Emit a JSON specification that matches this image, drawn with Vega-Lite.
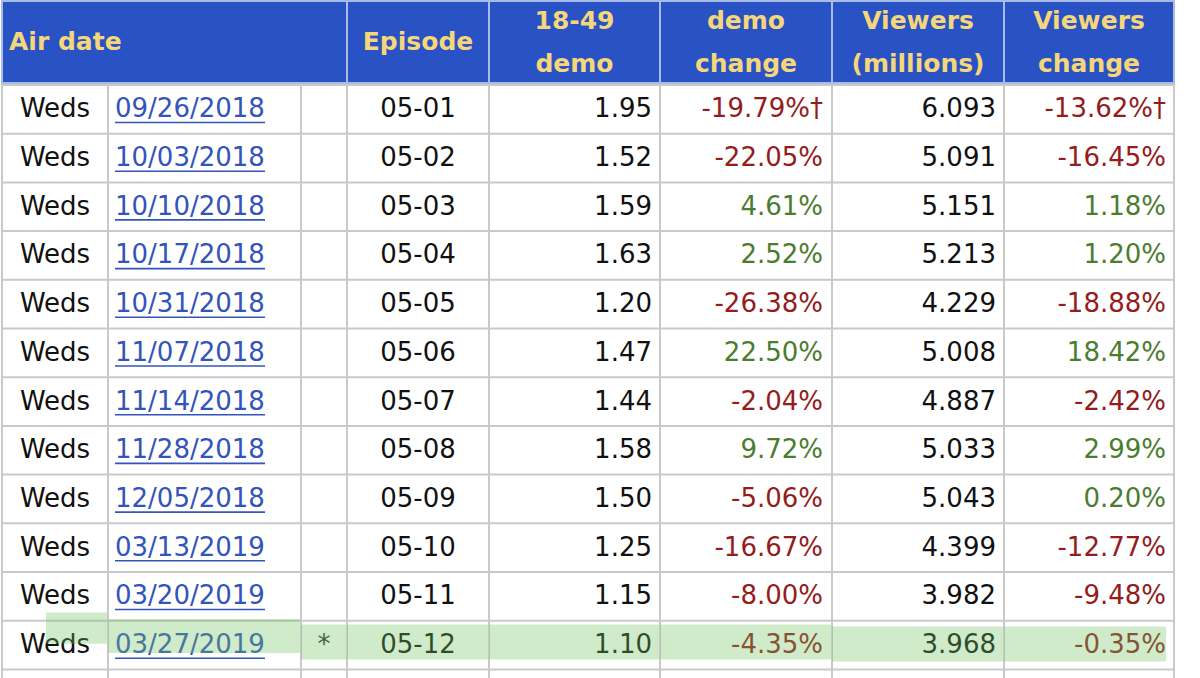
{
  "$schema": "https://vega.github.io/schema/vega-lite/v6.json",
  "padding": 0,
  "spacing": 0,
  "background": "white",
  "config": {
    "view": {"stroke": "#c9c9c9", "strokeWidth": 2},
    "concat": {"spacing": 0},
    "text": {"font": "DejaVu Sans", "fontSize": 26, "baseline": "middle"}
  },
  "datasets": {
    "rows": [
      {"idx": 1, "day": "Weds", "date": "09/26/2018", "star": "", "episode": "05-01", "demo": "1.95", "demo_change": "-19.79%†", "viewers": "6.093", "viewers_change": "-13.62%†"},
      {"idx": 2, "day": "Weds", "date": "10/03/2018", "star": "", "episode": "05-02", "demo": "1.52", "demo_change": "-22.05%", "viewers": "5.091", "viewers_change": "-16.45%"},
      {"idx": 3, "day": "Weds", "date": "10/10/2018", "star": "", "episode": "05-03", "demo": "1.59", "demo_change": "4.61%", "viewers": "5.151", "viewers_change": "1.18%"},
      {"idx": 4, "day": "Weds", "date": "10/17/2018", "star": "", "episode": "05-04", "demo": "1.63", "demo_change": "2.52%", "viewers": "5.213", "viewers_change": "1.20%"},
      {"idx": 5, "day": "Weds", "date": "10/31/2018", "star": "", "episode": "05-05", "demo": "1.20", "demo_change": "-26.38%", "viewers": "4.229", "viewers_change": "-18.88%"},
      {"idx": 6, "day": "Weds", "date": "11/07/2018", "star": "", "episode": "05-06", "demo": "1.47", "demo_change": "22.50%", "viewers": "5.008", "viewers_change": "18.42%"},
      {"idx": 7, "day": "Weds", "date": "11/14/2018", "star": "", "episode": "05-07", "demo": "1.44", "demo_change": "-2.04%", "viewers": "4.887", "viewers_change": "-2.42%"},
      {"idx": 8, "day": "Weds", "date": "11/28/2018", "star": "", "episode": "05-08", "demo": "1.58", "demo_change": "9.72%", "viewers": "5.033", "viewers_change": "2.99%"},
      {"idx": 9, "day": "Weds", "date": "12/05/2018", "star": "", "episode": "05-09", "demo": "1.50", "demo_change": "-5.06%", "viewers": "5.043", "viewers_change": "0.20%"},
      {"idx": 10, "day": "Weds", "date": "03/13/2019", "star": "", "episode": "05-10", "demo": "1.25", "demo_change": "-16.67%", "viewers": "4.399", "viewers_change": "-12.77%"},
      {"idx": 11, "day": "Weds", "date": "03/20/2019", "star": "", "episode": "05-11", "demo": "1.15", "demo_change": "-8.00%", "viewers": "3.982", "viewers_change": "-9.48%"},
      {"idx": 12, "day": "Weds", "date": "03/27/2019", "star": "*", "episode": "05-12", "demo": "1.10", "demo_change": "-4.35%", "viewers": "3.968", "viewers_change": "-0.35%"}
    ]
  },
  "vconcat": [
    {
      "spacing": 0,
      "bounds": "flush",
      "hconcat": [
        {"width": 345, "height": 82, "view": {"fill": "#2952c4", "stroke": "#a9bce8", "strokeWidth": 2},
         "data": {"values": [{"label": "Air date"}]},
         "mark": {"type": "text", "fontSize": 25, "fontWeight": "bold", "color": "#f6d67a", "align": "left", "x": 7},
         "encoding": {"text": {"field": "label"}}},
        {"width": 142, "height": 82, "view": {"fill": "#2952c4", "stroke": "#a9bce8", "strokeWidth": 2},
         "data": {"values": [{"label": "Episode"}]},
         "mark": {"type": "text", "fontSize": 25, "fontWeight": "bold", "color": "#f6d67a"},
         "encoding": {"text": {"field": "label"}}},
        {"width": 171, "height": 82, "view": {"fill": "#2952c4", "stroke": "#a9bce8", "strokeWidth": 2},
         "data": {"values": [{"label": ["18-49", "demo"]}]},
         "mark": {"type": "text", "fontSize": 25, "fontWeight": "bold", "color": "#f6d67a", "lineHeight": 43, "dy": -21.5},
         "encoding": {"text": {"field": "label"}}},
        {"width": 172, "height": 82, "view": {"fill": "#2952c4", "stroke": "#a9bce8", "strokeWidth": 2},
         "data": {"values": [{"label": ["demo", "change"]}]},
         "mark": {"type": "text", "fontSize": 25, "fontWeight": "bold", "color": "#f6d67a", "lineHeight": 43, "dy": -21.5},
         "encoding": {"text": {"field": "label"}}},
        {"width": 172, "height": 82, "view": {"fill": "#2952c4", "stroke": "#a9bce8", "strokeWidth": 2},
         "data": {"values": [{"label": ["Viewers", "(millions)"]}]},
         "mark": {"type": "text", "fontSize": 25, "fontWeight": "bold", "color": "#f6d67a", "lineHeight": 43, "dy": -21.5},
         "encoding": {"text": {"field": "label"}}},
        {"width": 170, "height": 82, "view": {"fill": "#2952c4", "stroke": "#a9bce8", "strokeWidth": 2},
         "data": {"values": [{"label": ["Viewers", "change"]}]},
         "mark": {"type": "text", "fontSize": 25, "fontWeight": "bold", "color": "#f6d67a", "lineHeight": 43, "dy": -21.5},
         "encoding": {"text": {"field": "label"}}}
      ]
    },
    {
      "spacing": 0,
      "bounds": "flush",
      "hconcat": [
        {"width": 106, "height": 595, "data": {"name": "rows"},
         "encoding": {"y": {"field": "idx", "type": "ordinal", "scale": {"range": [0, 584.4]}, "axis": null}},
         "layer": [
           {"mark": {"type": "rule", "color": "#c9c9c9", "strokeWidth": 2}, "encoding": {"y": {"field": "idx", "type": "ordinal", "bandPosition": 1}}},
           {"mark": {"type": "text", "color": "#111111"}, "encoding": {"text": {"field": "day"}}},
           {"transform": [{"filter": "datum.star === '*'"}], "mark": {"type": "bar", "color": "#6cc35f", "opacity": 0.33, "height": {"band": 0.64}, "yOffset": -17, "x": 44, "x2": 106}, "encoding": {}}
         ]},
        {"width": 193, "height": 595, "data": {"name": "rows"},
         "encoding": {"y": {"field": "idx", "type": "ordinal", "scale": {"range": [0, 584.4]}, "axis": null}},
         "layer": [
           {"mark": {"type": "rule", "color": "#c9c9c9", "strokeWidth": 2}, "encoding": {"y": {"field": "idx", "type": "ordinal", "bandPosition": 1}}},
           {"mark": {"type": "text", "color": "#3354bb", "align": "left", "x": 7}, "encoding": {"text": {"field": "date"}}},
           {"mark": {"type": "rule", "color": "#3354bb", "strokeWidth": 1.6, "x": 7, "x2": 157}, "encoding": {"y": {"field": "idx", "type": "ordinal", "bandPosition": 0.77}}},
           {"transform": [{"filter": "datum.star === '*'"}], "mark": {"type": "bar", "color": "#6cc35f", "opacity": 0.33, "height": {"band": 0.7}, "yOffset": -9}, "encoding": {}}
         ]},
        {"width": 46, "height": 595, "data": {"name": "rows"},
         "encoding": {"y": {"field": "idx", "type": "ordinal", "scale": {"range": [0, 584.4]}, "axis": null}},
         "layer": [
           {"mark": {"type": "rule", "color": "#c9c9c9", "strokeWidth": 2}, "encoding": {"y": {"field": "idx", "type": "ordinal", "bandPosition": 1}}},
           {"mark": {"type": "text", "color": "#333333"}, "encoding": {"text": {"field": "star"}}},
           {"transform": [{"filter": "datum.star === '*'"}], "mark": {"type": "bar", "color": "#6cc35f", "opacity": 0.33, "height": {"band": 0.72}, "yOffset": -3}, "encoding": {}}
         ]},
        {"width": 142, "height": 595, "data": {"name": "rows"},
         "encoding": {"y": {"field": "idx", "type": "ordinal", "scale": {"range": [0, 584.4]}, "axis": null}},
         "layer": [
           {"mark": {"type": "rule", "color": "#c9c9c9", "strokeWidth": 2}, "encoding": {"y": {"field": "idx", "type": "ordinal", "bandPosition": 1}}},
           {"mark": {"type": "text", "color": "#111111"}, "encoding": {"text": {"field": "episode"}}},
           {"transform": [{"filter": "datum.star === '*'"}], "mark": {"type": "bar", "color": "#6cc35f", "opacity": 0.33, "height": {"band": 0.72}, "yOffset": -3}, "encoding": {}}
         ]},
        {"width": 171, "height": 595, "data": {"name": "rows"},
         "encoding": {"y": {"field": "idx", "type": "ordinal", "scale": {"range": [0, 584.4]}, "axis": null}},
         "layer": [
           {"mark": {"type": "rule", "color": "#c9c9c9", "strokeWidth": 2}, "encoding": {"y": {"field": "idx", "type": "ordinal", "bandPosition": 1}}},
           {"mark": {"type": "text", "color": "#111111", "align": "right", "x": 163}, "encoding": {"text": {"field": "demo"}}},
           {"transform": [{"filter": "datum.star === '*'"}], "mark": {"type": "bar", "color": "#6cc35f", "opacity": 0.33, "height": {"band": 0.72}, "yOffset": -3}, "encoding": {}}
         ]},
        {"width": 172, "height": 595, "data": {"name": "rows"},
         "encoding": {"y": {"field": "idx", "type": "ordinal", "scale": {"range": [0, 584.4]}, "axis": null}},
         "layer": [
           {"mark": {"type": "rule", "color": "#c9c9c9", "strokeWidth": 2}, "encoding": {"y": {"field": "idx", "type": "ordinal", "bandPosition": 1}}},
           {"mark": {"type": "text", "align": "right", "x": 163},
            "encoding": {"text": {"field": "demo_change"},
                         "color": {"condition": {"test": "indexof(datum.demo_change, '-') === 0", "value": "#951c1c"}, "value": "#4b7d2e"}}},
           {"transform": [{"filter": "datum.star === '*'"}], "mark": {"type": "bar", "color": "#6cc35f", "opacity": 0.33, "height": {"band": 0.72}, "yOffset": -3}, "encoding": {}}
         ]},
        {"width": 172, "height": 595, "data": {"name": "rows"},
         "encoding": {"y": {"field": "idx", "type": "ordinal", "scale": {"range": [0, 584.4]}, "axis": null}},
         "layer": [
           {"mark": {"type": "rule", "color": "#c9c9c9", "strokeWidth": 2}, "encoding": {"y": {"field": "idx", "type": "ordinal", "bandPosition": 1}}},
           {"mark": {"type": "text", "color": "#111111", "align": "right", "x": 164}, "encoding": {"text": {"field": "viewers"}}},
           {"transform": [{"filter": "datum.star === '*'"}], "mark": {"type": "bar", "color": "#6cc35f", "opacity": 0.33, "height": {"band": 0.72}, "yOffset": -1}, "encoding": {}}
         ]},
        {"width": 170, "height": 595, "data": {"name": "rows"},
         "encoding": {"y": {"field": "idx", "type": "ordinal", "scale": {"range": [0, 584.4]}, "axis": null}},
         "layer": [
           {"mark": {"type": "rule", "color": "#c9c9c9", "strokeWidth": 2}, "encoding": {"y": {"field": "idx", "type": "ordinal", "bandPosition": 1}}},
           {"mark": {"type": "text", "align": "right", "x": 162},
            "encoding": {"text": {"field": "viewers_change"},
                         "color": {"condition": {"test": "indexof(datum.viewers_change, '-') === 0", "value": "#951c1c"}, "value": "#4b7d2e"}}},
           {"transform": [{"filter": "datum.star === '*'"}], "mark": {"type": "bar", "color": "#6cc35f", "opacity": 0.33, "height": {"band": 0.72}, "yOffset": -1, "x": 0, "x2": 162}, "encoding": {}}
         ]}
      ]
    }
  ]
}
